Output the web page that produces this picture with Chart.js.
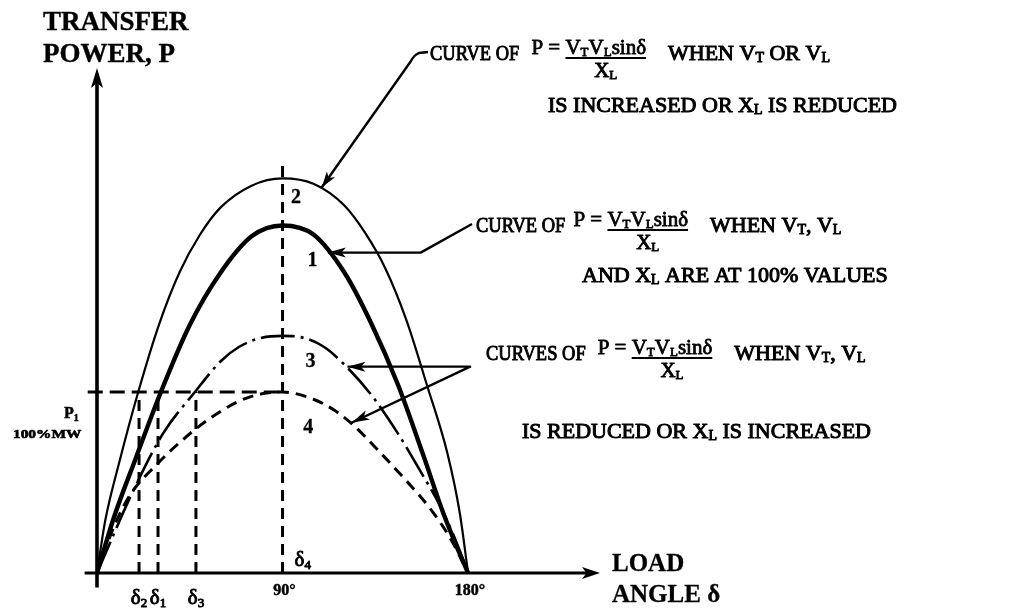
<!DOCTYPE html>
<html>
<head>
<meta charset="utf-8">
<script src="https://cdn.jsdelivr.net/npm/chart.js@4.4.0/dist/chart.umd.min.js"></script>
<style>
  html, body { margin: 0; padding: 0; background: #fff; }
  #wrap { width: 1011px; height: 615px; }
</style>
</head>
<body>
<div id="wrap"><canvas id="c" width="1011" height="615"></canvas></div>
<script>
// Power–angle curves: load angle δ in degrees, transferred power P in % of P1
const curveAngle2 = [0, 4, 11, 20, 30, 40, 50, 60, 75, 90, 105, 120, 130, 140, 150, 160, 170, 176, 180];
const curvePower2 = [0, 29, 62, 100, 137, 166, 187, 202, 214, 218, 215, 203, 188, 168, 140, 104, 66, 33, 0];

const curveAngle1 = [0, 8, 19, 31, 45, 60, 75, 90, 105, 120, 133, 146, 158, 168, 174, 180];
const curvePower1 = [0, 30, 64, 100, 137, 166, 186, 192, 187, 166, 138, 104, 66, 33, 16, 0];

const curveAngle3 = [0, 17, 32, 47.5, 60, 69, 80, 90, 100, 110, 121, 134, 146, 157, 166, 174, 180];
const curvePower3 = [0, 44, 77, 100, 117, 125, 130, 131, 130, 125, 114, 97, 77, 56, 38, 18, 0];

const curveAngle4 = [0, 8, 16, 29, 40, 53, 69, 80, 90, 105, 115, 125, 137, 150, 162, 172, 180];
const curvePower4 = [0, 25, 43, 60, 72, 84, 95, 99, 100, 96, 90, 81, 67, 51, 35, 18, 0];

// Operating level P1 (100% MW) and the angles where each curve delivers it
const powerP1 = 100;
const deltaNames = ['δ2', 'δ1', 'δ3', 'δ4'];
const deltaAngles = [20.4, 29.6, 48, 90];
const deltaLineTop = [powerP1, powerP1, powerP1, 226];

// Labels under the angle axis
const tickAngles = [20.4, 29.6, 48, 90, 180];
const tickLabels = ['δ2', 'δ1', 'δ3', '90°', '180°'];

// Curve number tags
const curveTags = ['2', '1', '3', '4'];
const tagAngles = [97, 105, 104, 103];
const tagPowers = [209, 174, 118, 82];

const FONT = '"Liberation Serif", "Times New Roman", serif';

function zip(xs, ys) { return xs.map((v, i) => ({ x: v, y: ys[i] })); }

const curveStyle = {
  borderColor: '#000', pointRadius: 0, fill: false,
  tension: 0.4, cubicInterpolationMode: 'monotone'
};

const datasets = [
  Object.assign({ data: zip(curveAngle2, curvePower2), borderWidth: 2.2 }, curveStyle),
  Object.assign({ data: zip(curveAngle1, curvePower1), borderWidth: 4.4 }, curveStyle),
  Object.assign({ data: zip(curveAngle3, curvePower3), borderWidth: 2.6, borderDash: [34, 6, 3, 6] }, curveStyle),
  Object.assign({ data: zip(curveAngle4, curvePower4), borderWidth: 3, borderDash: [11, 7] }, curveStyle),
  // horizontal P1 level
  { data: [{ x: -4.5, y: powerP1 }, { x: 90, y: powerP1 }], borderColor: '#000', borderWidth: 3,
    borderDash: [15, 7], pointRadius: 0, clip: false }
];
deltaAngles.forEach((a, i) => {
  datasets.push({ data: [{ x: a, y: 0 }, { x: a, y: deltaLineTop[i] }], borderColor: '#000',
    borderWidth: 3, borderDash: [11, 7], pointRadius: 0 });
});

// text runs: [text, size, dy, bold]
function setFont(ctx, r) { ctx.font = (r[3] ? 'bold ' : '') + r[1] + 'px ' + FONT; }
function runWidth(ctx, runs, sx) {
  let w = 0;
  runs.forEach(r => { setFont(ctx, r); w += ctx.measureText(r[0]).width; });
  return w * (sx || 1);
}
function drawRuns(ctx, x, y, runs, stroke, sx) {
  sx = sx || 1;
  ctx.save();
  ctx.translate(x, y);
  ctx.scale(sx, 1);
  ctx.textBaseline = 'alphabetic';
  ctx.textAlign = 'left';
  let cx = 0;
  runs.forEach(r => {
    setFont(ctx, r);
    ctx.fillText(r[0], cx, r[2] || 0);
    if (stroke) { ctx.lineWidth = stroke; ctx.strokeText(r[0], cx, r[2] || 0); }
    cx += ctx.measureText(r[0]).width;
  });
  ctx.restore();
  return x + cx * sx;
}
function sub(letter, base) {
  return [[letter[0], base, 0], [letter[1], Math.round(base * 0.62), 2]];
}
// P = VT VL sinδ / XL, numerator baseline at y
function drawFormula(ctx, x, y, s) {
  let cx = drawRuns(ctx, x, y, [['P = ', s, 0]], 0.8);
  const num = [].concat(sub('VT', s), sub('VL', s), [['sinδ', s, 0]]);
  const w = runWidth(ctx, num);
  drawRuns(ctx, cx, y, num, 0.8);
  ctx.lineWidth = 1.8;
  ctx.beginPath(); ctx.moveTo(cx, y + 4); ctx.lineTo(cx + w, y + 4); ctx.stroke();
  const den = sub('XL', s);
  const dw = runWidth(ctx, den);
  drawRuns(ctx, cx + (w - dw) / 2, y + s * 1.08, den, 0.9);
  return cx + w;
}
function arrowHead(ctx, tx, ty, fx, fy, len, half) {
  const a = Math.atan2(ty - fy, tx - fx);
  ctx.beginPath();
  ctx.moveTo(tx, ty);
  ctx.lineTo(tx - len * Math.cos(a) + half * Math.sin(a), ty - len * Math.sin(a) - half * Math.cos(a));
  ctx.lineTo(tx - len * Math.cos(a) * 0.75, ty - len * Math.sin(a) * 0.75);
  ctx.lineTo(tx - len * Math.cos(a) - half * Math.sin(a), ty - len * Math.sin(a) + half * Math.cos(a));
  ctx.closePath();
  ctx.fill();
}

const TXT = 22;      // annotation text size
const STK = 1.0;     // stroke to give the heavy printed look
const NARROW = 0.84; // "CURVE OF" is set tighter than the rest

const diagramPlugin = {
  id: 'diagram',
  afterDatasetsDraw(chart) {
    const { ctx, scales } = chart;
    const px = v => scales.x.getPixelForValue(v);
    const py = v => scales.y.getPixelForValue(v);
    ctx.save();
    ctx.fillStyle = '#000';
    ctx.strokeStyle = '#000';
    ctx.lineCap = 'butt';
    ctx.lineJoin = 'round';

    // axes with arrow heads
    const x0 = px(0), y0 = py(0);
    const xEnd = px(scales.x.max), yEnd = py(scales.y.max);
    ctx.lineWidth = 3.2;
    ctx.beginPath(); ctx.moveTo(px(-6), y0); ctx.lineTo(xEnd - 10, y0); ctx.stroke();
    arrowHead(ctx, xEnd, y0, xEnd - 30, y0, 18, 6);
    ctx.lineWidth = 3.6;
    ctx.beginPath(); ctx.moveTo(x0, py(-8)); ctx.lineTo(x0, yEnd + 10); ctx.stroke();
    arrowHead(ctx, x0, yEnd, x0, yEnd + 30, 20, 6);

    // axis titles
    drawRuns(ctx, 43, 30, [['TRANSFER', 27, 0, true]], 0.4);
    drawRuns(ctx, 43, 62, [['POWER, P', 27, 0, true]], 0.4);
    drawRuns(ctx, 612, 571, [['LOAD', 25, 0, true]], 0.3);
    drawRuns(ctx, 612, 602, [['ANGLE δ', 25, 0, true]], 0.3);

    // P1 level label
    drawRuns(ctx, 64, 418, [['P', 16, 0, true], ['1', 10, 3, true]], 0.5);
    drawRuns(ctx, 13, 438, [['100%MW', 12, 0, true]], 0.6, 1.28);

    // tick labels along the angle axis
    tickLabels.forEach((t, i) => {
      const cx = px(tickAngles[i]);
      if (t[0] === 'δ') {
        const runs = [['δ', 21, 0], [t[1], 13, 3]];
        const w = runWidth(ctx, runs);
        drawRuns(ctx, cx - w / 2, 604, runs, 0.9);
      } else {
        const runs = [[t, 16, 0, true]];
        const w = runWidth(ctx, runs);
        drawRuns(ctx, cx - w / 2 + 2, 595, runs, 0.5);
      }
    });
    // δ4 beside the 90° guide
    drawRuns(ctx, px(deltaAngles[3]) + 12, 566, [['δ', 21, 0], ['4', 13, 3]], 0.9);

    // curve numbers
    curveTags.forEach((t, i) => {
      drawRuns(ctx, px(tagAngles[i]) - 6, py(tagPowers[i]) + 8, [[t, 20, 0, true]], 0.3);
    });

    // annotation: curve 2
    ctx.lineWidth = 2.4;
    let tip = { x: px(109), y: py(213) };
    ctx.beginPath(); ctx.moveTo(428, 52); ctx.lineTo(419, 53); ctx.quadraticCurveTo(414, 55, 411, 61);
    ctx.lineTo(tip.x, tip.y); ctx.stroke();
    arrowHead(ctx, tip.x, tip.y, 411, 61, 16, 5);
    let cx = drawRuns(ctx, 430, 60, [['CURVE OF', TXT, 0]], STK, NARROW);
    cx = drawFormula(ctx, cx + 12, 54, 21);
    drawRuns(ctx, cx + 22, 60, [].concat([['WHEN ', TXT, 0]], sub('VT', TXT), [[' OR ', TXT, 0]], sub('VL', TXT)), STK);
    drawRuns(ctx, 548, 112, [].concat([['IS INCREASED OR ', TXT, 0]], sub('XL', TXT), [[' IS REDUCED', TXT, 0]]), STK);

    // annotation: curve 1
    tip = { x: px(112), y: py(177) };
    const bend = { x: px(157), y: py(177) };
    ctx.lineWidth = 2.4;
    ctx.beginPath(); ctx.moveTo(tip.x, tip.y); ctx.lineTo(bend.x, bend.y); ctx.lineTo(472, 224); ctx.stroke();
    arrowHead(ctx, tip.x, tip.y, bend.x, bend.y, 18, 5);
    cx = drawRuns(ctx, 476, 232, [['CURVE OF', TXT, 0]], STK, NARROW);
    cx = drawFormula(ctx, cx + 8, 226, 21);
    drawRuns(ctx, cx + 22, 232, [].concat([['WHEN ', TXT, 0]], sub('VT', TXT), [[', ', TXT, 0]], sub('VL', TXT)), STK);
    drawRuns(ctx, 582, 282, [].concat([['AND ', TXT, 0]], sub('XL', TXT), [[' ARE AT 100% VALUES', TXT, 0]]), STK);

    // annotation: curves 3 and 4
    const vtx = { x: px(181), y: py(114) };
    const tip3 = { x: px(121.5), y: py(114) };
    const tip4 = { x: px(123.5), y: py(83) };
    ctx.lineWidth = 2.4;
    ctx.beginPath(); ctx.moveTo(tip3.x, tip3.y); ctx.lineTo(vtx.x, vtx.y); ctx.lineTo(tip4.x, tip4.y); ctx.stroke();
    arrowHead(ctx, tip3.x, tip3.y, vtx.x, vtx.y, 18, 5);
    arrowHead(ctx, tip4.x, tip4.y, vtx.x, vtx.y, 18, 5);
    cx = drawRuns(ctx, 486, 360, [['CURVES OF', TXT, 0]], STK, NARROW);
    cx = drawFormula(ctx, cx + 12, 354, 21);
    drawRuns(ctx, cx + 22, 360, [].concat([['WHEN ', TXT, 0]], sub('VT', TXT), [[', ', TXT, 0]], sub('VL', TXT)), STK);
    drawRuns(ctx, 522, 438, [].concat([['IS REDUCED OR ', TXT, 0]], sub('XL', TXT), [[' IS INCREASED', TXT, 0]]), STK);

    ctx.restore();
  }
};

new Chart(document.getElementById('c'), {
  type: 'line',
  data: { datasets },
  options: {
    responsive: false,
    animation: false,
    devicePixelRatio: 1,
    layout: { padding: { left: 97, right: 411, top: 68, bottom: 42 } },
    plugins: { legend: { display: false }, tooltip: { enabled: false } },
    scales: {
      x: { type: 'linear', min: 0, max: 244, display: false },
      y: { type: 'linear', min: 0, max: 279, display: false }
    }
  },
  plugins: [diagramPlugin]
});
</script>
</body>
</html>
